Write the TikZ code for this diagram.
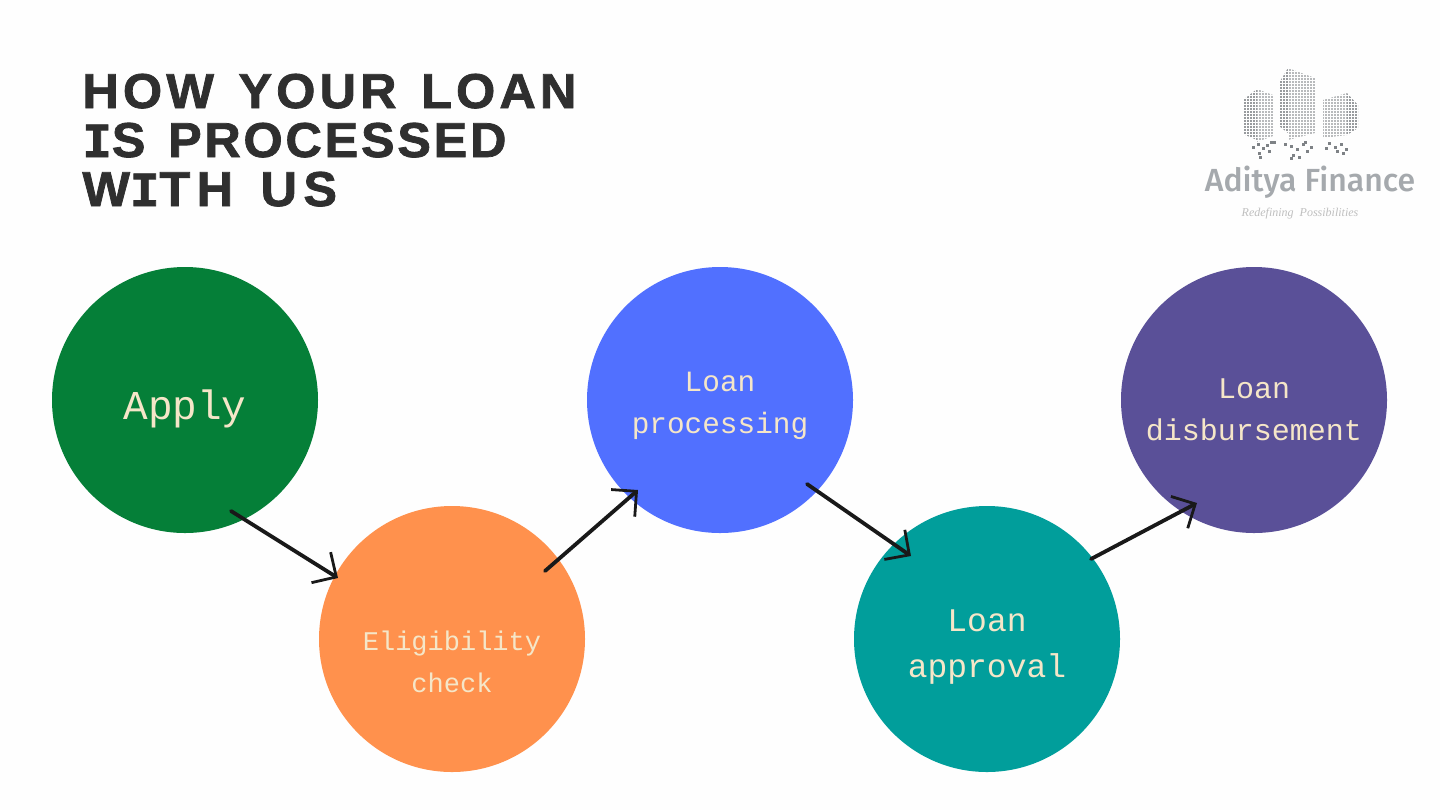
\documentclass[tikz,border=0pt]{standalone}
\usepackage{fontspec}
\usetikzlibrary{arrows.meta}
\setmainfont{Liberation Mono}
\newfontfamily\titlefont[LetterSpace=8.4,FakeBold=1.5,FakeStretch=1.03,WordSpace=1.35]{Liberation Sans Bold}
\newfontfamily\titletight[LetterSpace=5.5,FakeBold=1.5,FakeStretch=1.03,WordSpace=1.35]{Liberation Sans Bold}
\newfontfamily\titleloose[LetterSpace=13,FakeBold=1.5,FakeStretch=1.03,WordSpace=1.35]{Liberation Sans Bold}
\newfontfamily\titleslab[FakeBold=1.5]{Liberation Mono Bold}
\newfontfamily\stepfont{Liberation Mono}
\newfontfamily\brandfont{Fira Sans Medium}
\newfontfamily\tagfont{Liberation Serif Italic}
\newcommand{\slabI}{{\titleslab I}}
\definecolor{pagebg}{HTML}{FEFEFE}
\definecolor{titlegrey}{HTML}{2F2F2F}
\definecolor{labelcream}{HTML}{F5E6C8}
\definecolor{applygreen}{HTML}{057F38}
\definecolor{checkorange}{HTML}{FF914D}
\definecolor{processblue}{HTML}{5170FF}
\definecolor{approvalteal}{HTML}{019E9B}
\definecolor{payoutpurple}{HTML}{5A5098}
\definecolor{brandgrey}{HTML}{A5A9AD}
\definecolor{towergrey}{HTML}{7E8286}
\tikzset{
    stepcircle/.style={circle, minimum size=133pt, inner sep=0pt},
    steplabel/.style={inner sep=0pt, align=center, text=labelcream},
    handarrow/.style={draw=black!90, line width=1.9pt, line cap=round, -{Straight Barb[length=9pt, width=18pt, line width=1.4pt]}},
    titleline/.style={anchor=base west, inner sep=0pt, text=titlegrey},
}
\begin{document}
\begin{tikzpicture}[x=0.5pt, y=-0.5pt]

        \useasboundingbox (0,0) rectangle (1440,810);
        \fill[pagebg] (0,0) rectangle (1440,810);

        % Title
        \node[titleline, font=\titlefont\fontsize{24.5}{24.5}\selectfont] (title1) at (82,108) {HOW YOUR LOAN};
        \node[titleline, font=\titletight\fontsize{24.5}{24.5}\selectfont] (title2) at (82,157) {\slabI S PROCESSED};
        \node[titleline, font=\titleloose\fontsize{24.5}{24.5}\selectfont] (title3) at (82,206) {W\slabI TH US};

        % Logo towers
        \fill[towergrey!80] (1243,100) -- (1257,89) -- (1257,140) -- (1243,134) -- cycle;
        \fill[towergrey!55] (1257,89) -- (1273,95) -- (1273,136) -- (1257,142) -- cycle;
        \fill[towergrey!80] (1279,83) -- (1288,68) -- (1288,133) -- (1279,126) -- cycle;
        \fill[towergrey!55] (1288,68) -- (1315,78) -- (1315,133) -- (1288,140) -- cycle;
        \fill[towergrey!55] (1323,100) -- (1347,93) -- (1347,135) -- (1323,138) -- cycle;
        \fill[towergrey!80] (1347,93) -- (1358,105) -- (1358,128) -- (1347,135) -- cycle;
        % Window grid
        \foreach \x in {1243,1246,...,1357}
            \draw[pagebg, line width=0.3pt] (\x,65) -- (\x,145);
        \foreach \y in {68,71,...,145}
            \draw[pagebg, line width=0.3pt] (1240,\y) -- (1360,\y);
        % Falling pixels
        \foreach \x/\y in {1257/143,1262/147,1266/144,1258/152,1259/156,1268/150,1252/146,1273/141,1290/145,1296/148,1302/143,1292/154,1290/157,1298/156,1306/150,1284/143,1310/146,1328/142,1334/146,1340/143,1325/147,1342/152,1345/148,1336/150,1304/141,1270/141}
            \fill[towergrey] (\x,\y) rectangle ++(2.5,2.5);

        \node[inner sep=0pt, text=brandgrey, font=\brandfont\fontsize{16}{16}\selectfont] (brand) at (1310,182) {Aditya Finance};
        \node[inner sep=0pt, text=black!25, font=\tagfont\fontsize{6}{6}\selectfont] (tagline) at (1300,214) {Redefining\ \ Possibilities};

        % Step circles
        \node[stepcircle, fill=applygreen] (apply) at (185,400) {};
        \node[stepcircle, fill=checkorange] (check) at (452,639) {};
        \node[stepcircle, fill=processblue] (process) at (720,400) {};
        \node[stepcircle, fill=approvalteal] (approval) at (987,639) {};
        \node[stepcircle, fill=payoutpurple] (payout) at (1254,400) {};

        % Labels
        \node[steplabel, font=\stepfont\fontsize{20.5}{20.5}\selectfont] (applytext) at (185,409) {Apply};
        \node[steplabel, font=\stepfont\fontsize{13.5}{21}\selectfont] (checktext) at (452,662) {Eligibility\\check};
        \node[steplabel, font=\stepfont\fontsize{14.7}{21}\selectfont] (processtext) at (720,406) {Loan\\processing};
        \node[steplabel, font=\stepfont\fontsize{16.5}{23}\selectfont] (approvaltext) at (987,647) {Loan\\approval};
        \node[steplabel, font=\stepfont\fontsize{15}{21}\selectfont] (payouttext) at (1254,410) {Loan\\disbursement};

        % Free ends of the arrows
        \coordinate (from1) at (231,511);
        \coordinate (to1) at (338,578);
        \coordinate (from2) at (545,571);
        \coordinate (to2) at (638,490);
        \coordinate (from3) at (807,484);
        \coordinate (to3) at (911,556);
        \coordinate (from4) at (1091,559);
        \coordinate (to4) at (1197,503);

        \foreach \i in {1,...,4} {
            \draw[handarrow] (from\i) -- (to\i);
        }

\end{tikzpicture}
\end{document}
